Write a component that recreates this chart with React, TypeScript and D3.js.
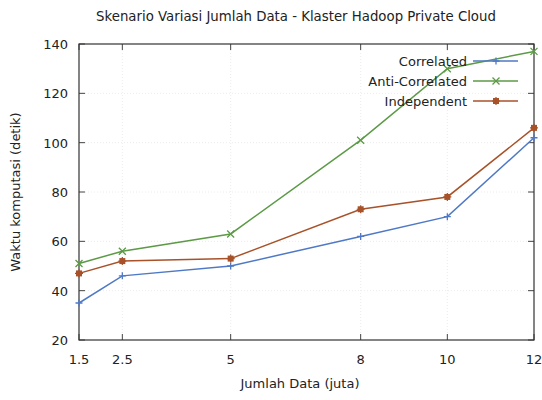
import React from "react";
import * as d3 from "d3";

const xValues = [1.5, 2.5, 5, 8, 10, 12];
const xTicks = [1.5, 2.5, 5, 8, 10, 12];
const yTicks = [20, 40, 60, 80, 100, 120, 140];
const correlated = [35, 46, 50, 62, 70, 102];
const antiCorrelated = [51, 56, 63, 101, 130, 137];
const independent = [47, 52, 53, 73, 78, 106];

const series = [
  { name: "Correlated", values: correlated, color: "#4f79c6", marker: "plus" },
  { name: "Anti-Correlated", values: antiCorrelated, color: "#5c9a46", marker: "cross" },
  { name: "Independent", values: independent, color: "#a8522a", marker: "square" },
];

const W = 542, H = 400;
const L = 79, R = 534, T = 44, B = 340;
const font = "DejaVu Sans, Verdana, sans-serif";

function Marker({ type, x, y, color }: { type: string; x: number; y: number; color: string }) {
  const s = 3.5;
  if (type === "plus")
    return <path d={`M${x - s},${y}H${x + s}M${x},${y - s}V${y + s}`} stroke={color} strokeWidth={1.3} />;
  if (type === "cross")
    return <path d={`M${x - s},${y - s}L${x + s},${y + s}M${x - s},${y + s}L${x + s},${y - s}`} stroke={color} strokeWidth={1.3} />;
  return (
    <g>
      <rect x={x - 3} y={y - 3} width={6} height={6} fill={color} />
      <path d={`M${x - 4},${y}H${x + 4}M${x},${y - 4}V${y + 4}`} stroke={color} strokeWidth={1.2} />
    </g>
  );
}

export default function App() {
  const x = d3.scaleLinear().domain([1.5, 12]).range([L, R]);
  const y = d3.scaleLinear().domain([20, 140]).range([B, T]);
  const line = d3.line<number>().x((_, i) => x(xValues[i])).y((d) => y(d));
  const legY = [61, 81, 101];
  return (
    <svg width={W} height={H} style={{ position: "absolute", left: 0, top: 0, background: "#fff" }} fontFamily={font}>
      <rect width={W} height={H} fill="#fff" />
      <text x={296} y={21} textAnchor="middle" fontSize={13.3} fill="#222">
        Skenario Variasi Jumlah Data - Klaster Hadoop Private Cloud
      </text>
      {yTicks.slice(1, -1).map((t) => (
        <line key={"gy" + t} x1={L} x2={R} y1={y(t)} y2={y(t)} stroke="#ececec" strokeWidth={1} strokeDasharray="1,2" />
      ))}
      {xTicks.slice(1, -1).map((t) => (
        <line key={"gx" + t} x1={x(t)} x2={x(t)} y1={T} y2={B} stroke="#ececec" strokeWidth={1} strokeDasharray="1,2" />
      ))}
      {yTicks.map((t) => (
        <g key={"yt" + t}>
          <line x1={L} x2={L + 6} y1={y(t)} y2={y(t)} stroke="#444" />
          <line x1={R} x2={R - 6} y1={y(t)} y2={y(t)} stroke="#444" />
          <text x={L - 11} y={y(t) + 5} textAnchor="end" fontSize={13} fill="#222">{t}</text>
        </g>
      ))}
      {xTicks.map((t) => (
        <g key={"xt" + t}>
          <line x1={x(t)} x2={x(t)} y1={B} y2={B - 6} stroke="#444" />
          <line x1={x(t)} x2={x(t)} y1={T} y2={T + 6} stroke="#444" />
          <text x={x(t)} y={B + 24} textAnchor="middle" fontSize={13} fill="#222">{t}</text>
        </g>
      ))}
      <rect x={L} y={T} width={R - L} height={B - T} fill="none" stroke="#333" strokeWidth={1.2} />
      <text x={300} y={388} textAnchor="middle" fontSize={13} fill="#222">Jumlah Data (juta)</text>
      <text transform={`translate(20,${(T + B) / 2}) rotate(-90)`} textAnchor="middle" fontSize={13} fill="#222">
        Waktu komputasi (detik)
      </text>
      {series.map((s) => (
        <g key={s.name}>
          <path d={line(s.values) || ""} fill="none" stroke={s.color} strokeWidth={1.5} />
          {s.values.map((v, i) => (
            <Marker key={i} type={s.marker} x={x(xValues[i])} y={y(v)} color={s.color} />
          ))}
        </g>
      ))}
      {series.map((s, si) => (
        <g key={"leg" + s.name}>
          <text x={467} y={legY[si] + 5} textAnchor="end" fontSize={13} fill="#222">{s.name}</text>
          <line x1={473} x2={518} y1={legY[si]} y2={legY[si]} stroke={s.color} strokeWidth={1.5} />
          <Marker type={s.marker} x={496} y={legY[si]} color={s.color} />
        </g>
      ))}
    </svg>
  );
}
